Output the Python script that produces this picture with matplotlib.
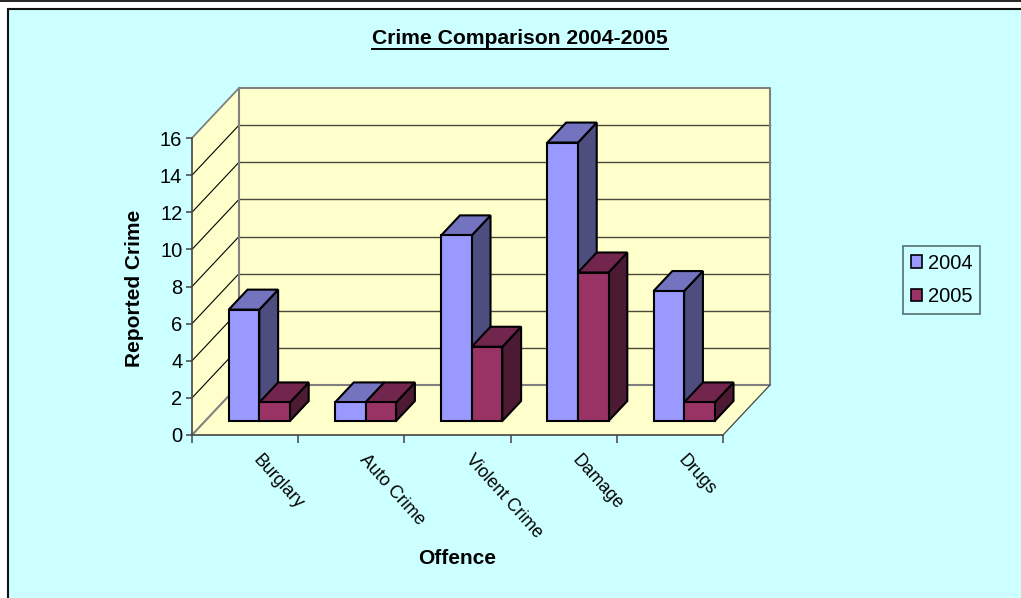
import matplotlib
matplotlib.use('Agg')
import matplotlib.pyplot as plt
from matplotlib.lines import Line2D
from matplotlib.patches import Patch, Polygon, Rectangle
from matplotlib.transforms import ScaledTranslation

plt.rcParams['font.family'] = ['Liberation Sans', 'DejaVu Sans']

offences = ['Burglary', 'Auto Crime', 'Violent Crime', 'Damage', 'Drugs']
crime_2004 = [6, 1, 10, 15, 7]
crime_2005 = [1, 1, 4, 8, 1]
years = ['2004', '2005']
y_ticks = [0, 2, 4, 6, 8, 10, 12, 14, 16]

W, H = 1021, 598
BG = '#CCFFFF'
WALL = '#FFFFCC'
FRONT = ['#9999FF', '#993366']
TOP = ['#7373BF', '#73264D']
SIDE = ['#4D4D80', '#4D1A33']
EDGE = '#808080'


def px_rect(x0, y0, x1, y1):
    # figure fractions from pixel box, y measured from the top
    return [x0 / W, 1 - y1 / H, (x1 - x0) / W, (y1 - y0) / H]


fig = plt.figure(figsize=(W / 100, H / 100), dpi=100, facecolor='white')

# chart area frame
fig.add_artist(Rectangle((8 / W, -0.1), 1.0, 1.1 - 9 / H, transform=fig.transFigure,
                         facecolor=BG, edgecolor='#111111', linewidth=1.5, zorder=-1))
fig.add_artist(Line2D([0, 1], [1 - 0.5 / H, 1 - 0.5 / H], transform=fig.transFigure,
                      color='black', linewidth=1.2, zorder=-1))

ax = fig.add_axes(px_rect(192, 138, 723, 435))
ax.patch.set_visible(False)
ax.set_xlim(0, len(offences))
ax.set_ylim(0, 16)

# depth direction in data units
dx = 47 / (531 / len(offences))
dy = 50 / (297 / 16)


def pt(x, y, d):
    return (x + d * dx, y + d * dy)


def face(points, color, edge='black', lw=1.5, z=3):
    ax.add_patch(Polygon([pt(*p) for p in points], closed=True, facecolor=color,
                         edgecolor=edge, linewidth=lw, zorder=z, clip_on=False,
                         joinstyle='miter'))


n = len(offences)
# walls and floor
face([(0, 0, 0), (n, 0, 0), (n, 0, 1), (0, 0, 1)], WALL, edge='none', lw=0, z=1)
face([(0, 0, 0), (0, 16, 0), (0, 16, 1), (0, 0, 1)], WALL, edge='none', lw=0, z=1)
face([(0, 0, 1), (n, 0, 1), (n, 16, 1), (0, 16, 1)], WALL, edge='none', lw=0, z=1)

for v in y_ticks[1:-1]:
    ax.plot(*zip(pt(0, v, 0), pt(0, v, 1)), color='black', lw=0.8, zorder=1.5, clip_on=False)
    ax.plot(*zip(pt(0, v, 1), pt(n, v, 1)), color='#4A4A3A', lw=1.0, zorder=1.5, clip_on=False)

# wall outlines
ax.plot(*zip(pt(0, 0, 0), pt(0, 0, 1), pt(0, 16, 1), pt(n, 16, 1), pt(n, 0, 1), pt(0, 0, 1)),
        color=EDGE, lw=1.5, zorder=1.6, clip_on=False)
ax.plot(*zip(pt(0, 16, 0), pt(0, 16, 1)), color=EDGE, lw=1.3, zorder=1.6, clip_on=False)
ax.plot(*zip(pt(n, 0, 0), pt(n, 0, 1)), color='#444444', lw=0.9, zorder=1.6, clip_on=False)

# bars
bar_w = 0.288
gap = 0.222
d0, d1 = 0.28, 0.68
for i in range(n):
    for s, vals in enumerate([crime_2004, crime_2005]):
        x0 = i + gap + s * bar_w
        x1 = x0 + bar_w
        v = vals[i]
        face([(x1, 0, d0), (x1, 0, d1), (x1, v, d1), (x1, v, d0)], SIDE[s])
        face([(x0, v, d0), (x1, v, d0), (x1, v, d1), (x0, v, d1)], TOP[s])
        face([(x0, 0, d0), (x1, 0, d0), (x1, v, d0), (x0, v, d0)], FRONT[s])

# axes
for name in ['top', 'right']:
    ax.spines[name].set_visible(False)
for name in ['left', 'bottom']:
    ax.spines[name].set_color('#444444')
    ax.spines[name].set_linewidth(1.2)

ax.set_yticks(y_ticks)
ax.tick_params(axis='y', labelsize=14.5, length=4, width=1.1, color='#444444', pad=3)
ax.set_xticks(range(n + 1))
ax.set_xticklabels([])
ax.tick_params(axis='x', which='major', length=6, width=1.1, color='#444444')
ax.set_xticks([i + 0.5 for i in range(n)], minor=True)
ax.set_xticklabels(offences, minor=True, rotation=-48, ha='left', va='top',
                   rotation_mode='anchor', fontsize=12.8)
ax.tick_params(axis='x', which='minor', length=0, pad=12)
shift = ScaledTranslation(17 / 100, 0, fig.dpi_scale_trans)
for lab in ax.get_xticklabels(minor=True):
    lab.set_transform(lab.get_transform() + shift)

fig.text(134.5 / W, 1 - 288 / H, 'Reported Crime', rotation=90, ha='center', va='center',
         fontsize=15, fontweight='bold')
fig.text(457 / W, 1 - 558 / H, 'Offence', ha='center', va='center',
         fontsize=15, fontweight='bold')

title = fig.text(520 / W, 1 - 38 / H, 'Crime Comparison 2004-2005', ha='center', va='center',
                 fontsize=15.2, fontweight='bold')
fig.canvas.draw()
box = title.get_window_extent()
fig.add_artist(Line2D([box.x0 / W, box.x1 / W], [1 - 49 / H, 1 - 49 / H],
                      transform=fig.transFigure, color='black', linewidth=1.4))

handles = [Patch(facecolor=FRONT[k], edgecolor='black', linewidth=1.2) for k in range(2)]
leg = fig.legend(handles, years, loc='upper left', bbox_to_anchor=(903 / W, 1 - 246 / H),
                 borderaxespad=0, fontsize=14.5, frameon=True, fancybox=False,
                 facecolor=BG, edgecolor='#557070', framealpha=1,
                 handlelength=0.55, handleheight=0.55, handletextpad=0.3,
                 labelspacing=0.72, borderpad=0.38)
leg.get_frame().set_linewidth(1.2)

fig.savefig('out.png', dpi=100, facecolor=fig.get_facecolor())
